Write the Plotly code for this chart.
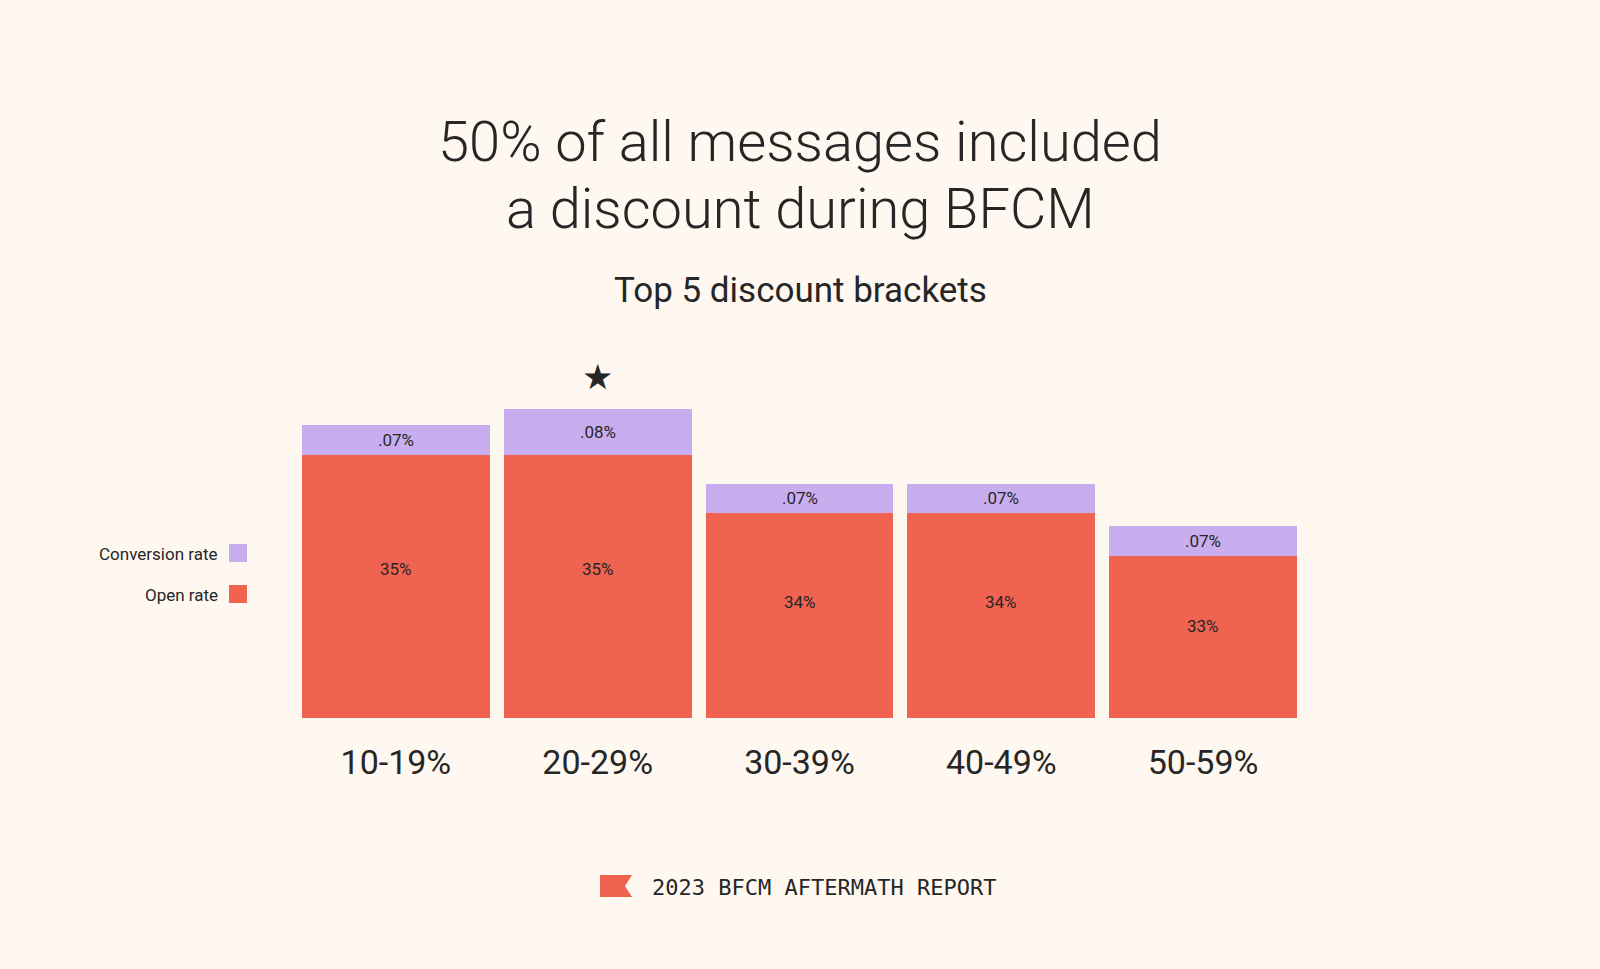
import plotly.graph_objects as go

# ---- data ----
categories = ["10-19%", "20-29%", "30-39%", "40-49%", "50-59%"]
open_rate_labels = ["35%", "35%", "34%", "34%", "33%"]
conversion_labels = [".07%", ".08%", ".07%", ".07%", ".07%"]
# visual bar lengths as drawn in the original (the chart is not drawn to scale)
open_rate_bar = [263.5, 263.5, 205, 205, 162]
conversion_bar = [29.5, 45.5, 29.5, 29.5, 30]
starred_category = "20-29%"

BG = "#FEF8F1"
RED = "#EF6350"
LAV = "#C8AEEE"
TXT = "#262626"
FONT = "Roboto"

W, H = 1600, 969


def px(x):
    return x / W


def py(y):
    return 1 - y / H


fig = go.Figure()
fig.add_trace(go.Bar(x=categories, y=open_rate_bar, name="Open rate",
                     marker=dict(color=RED, line=dict(width=0)),
                     hoverinfo="skip", showlegend=False))
fig.add_trace(go.Bar(x=categories, y=conversion_bar, name="Conversion rate",
                     marker=dict(color=LAV, line=dict(width=0)),
                     hoverinfo="skip", showlegend=False))

annotations = []
# bar value labels
for c, o, cv, ol, cl in zip(categories, open_rate_bar, conversion_bar,
                            open_rate_labels, conversion_labels):
    annotations.append(dict(x=c, y=o * 0.565, xref="x", yref="y", text=ol,
                            showarrow=False, xanchor="center", yanchor="middle",
                            font=dict(family=FONT, size=17, color=TXT)))
    annotations.append(dict(x=c, y=o + cv / 2, xref="x", yref="y", text=cl,
                            showarrow=False, xanchor="center", yanchor="middle",
                            font=dict(family=FONT, size=17, color=TXT)))

# star above the best bracket
si = categories.index(starred_category)
annotations.append(dict(x=starred_category, y=open_rate_bar[si] + conversion_bar[si],
                        xref="x", yref="y", text="★", showarrow=False,
                        xanchor="center", yanchor="middle", yshift=32,
                        font=dict(family="DejaVu Sans", size=35, color=TXT)))

# titles
annotations.append(dict(x=0.5, y=py(142), xref="paper", yref="paper",
                        text="50% of all messages included", showarrow=False,
                        xanchor="center", yanchor="middle",
                        font=dict(family=FONT, size=56, color=TXT, weight=300)))
annotations.append(dict(x=0.5, y=py(209), xref="paper", yref="paper",
                        text="a discount during BFCM", showarrow=False,
                        xanchor="center", yanchor="middle",
                        font=dict(family=FONT, size=56, color=TXT, weight=300)))
annotations.append(dict(x=0.5, y=py(290), xref="paper", yref="paper",
                        text="Top 5 discount brackets", showarrow=False,
                        xanchor="center", yanchor="middle",
                        font=dict(family=FONT, size=35, color=TXT)))

# legend (text left of the swatch)
annotations.append(dict(x=px(220), y=py(554), xref="paper", yref="paper",
                        text="Conversion rate", showarrow=False,
                        xanchor="right", yanchor="middle",
                        font=dict(family=FONT, size=17, color=TXT)))
annotations.append(dict(x=px(220), y=py(595), xref="paper", yref="paper",
                        text="Open rate", showarrow=False,
                        xanchor="right", yanchor="middle",
                        font=dict(family=FONT, size=17, color=TXT)))

# footer
annotations.append(dict(x=px(650), y=py(887), xref="paper", yref="paper",
                        text="2023 BFCM AFTERMATH REPORT", showarrow=False,
                        xanchor="left", yanchor="middle",
                        font=dict(family="DejaVu Sans Mono", size=22, color=TXT)))

shapes = [
    dict(type="rect", xref="paper", yref="paper", x0=px(229), x1=px(247),
         y0=py(562), y1=py(544), fillcolor=LAV, line=dict(width=0)),
    dict(type="rect", xref="paper", yref="paper", x0=px(229), x1=px(247),
         y0=py(603), y1=py(585), fillcolor=RED, line=dict(width=0)),
    dict(type="path", xref="paper", yref="paper",
         path=(f"M {px(600)} {py(875)} L {px(632)} {py(875)} L {px(625)} {py(886)} "
               f"L {px(632)} {py(897)} L {px(600)} {py(897)} Z"),
         fillcolor=RED, line=dict(width=0)),
]

fig.update_layout(
    width=W, height=H,
    barmode="stack", bargap=0.069,
    paper_bgcolor=BG, plot_bgcolor=BG,
    margin=dict(l=0, r=0, t=0, b=0),
    xaxis=dict(domain=[px(295), px(1304)], showgrid=False, zeroline=False,
               showline=False, ticks="", ticklabelstandoff=21,
               tickfont=dict(family=FONT, size=34, color=TXT), fixedrange=True),
    yaxis=dict(domain=[py(718), py(368)], range=[0, 350], visible=False,
               fixedrange=True),
    annotations=annotations,
    shapes=shapes,
    showlegend=False,
)

fig.write_html(
    "out.html",
    config={"displayModeBar": False, "staticPlot": True},
    post_script=f"document.body.style.margin='0';document.body.style.background='{BG}';",
)
